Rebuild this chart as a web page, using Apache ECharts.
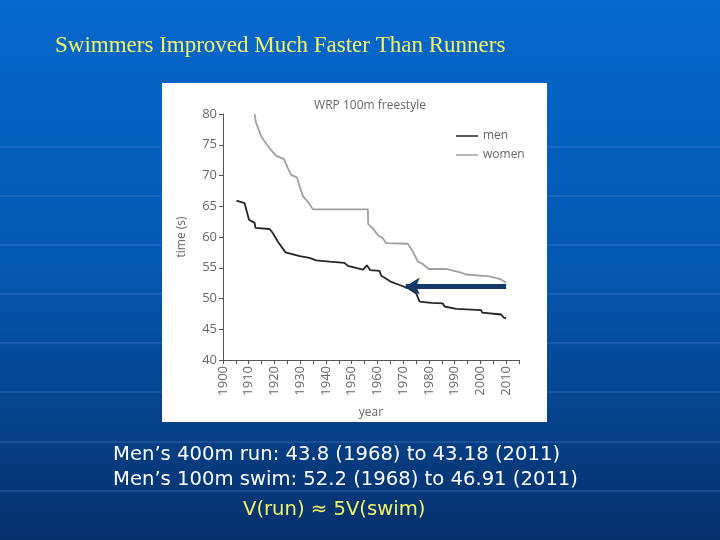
<!DOCTYPE html>
<html><head><meta charset="utf-8">
<script src="https://cdn.jsdelivr.net/npm/echarts@6/dist/echarts.min.js"></script>
<style>html,body{margin:0;padding:0;}#c{width:720px;height:540px;}</style>
</head><body><div id="c"></div>
<script>
// Data
var menYears   = [1905.2,1908.4,1910.1,1912.3,1912.6,1918.1,1919.4,1921.4,1924.3,1929.8,1933.6,1936.2,1941.4,1947.2,1948.5,1954.4,1955.9,1957.2,1960.8,1961.5,1965.4,1968.6,1971.8,1975.1,1976.4,1980.9,1985.4,1986.1,1990.6,2000.3,2000.7,2008.1,2009.0,2010.0];
var menTimes   = [65.9,65.5,62.8,62.3,61.5,61.3,60.6,59.2,57.5,56.9,56.6,56.2,56.0,55.8,55.3,54.7,55.4,54.6,54.5,53.7,52.7,52.2,51.7,50.8,49.5,49.3,49.2,48.7,48.3,48.1,47.7,47.4,46.9,46.8];
var womenYears = [1912.3,1912.7,1914.9,1918.1,1920.7,1923.6,1925.2,1926.5,1928.7,1929.8,1931.1,1933.0,1934.3,1934.9,1956.3,1956.4,1958.2,1960.2,1962.1,1963.4,1971.8,1973.8,1975.7,1977.6,1980.0,1986.7,1992.5,1994.5,2003.5,2007.4,2010.0];
var womenTimes = [80.0,78.8,76.3,74.4,73.2,72.7,71.2,70.1,69.7,68.2,66.6,65.7,64.9,64.5,64.5,62.1,61.4,60.3,59.8,59.0,58.9,57.6,56.0,55.6,54.8,54.8,54.2,53.9,53.6,53.2,52.6];
var seriesNames = ['men','women'];
var arrowFrom = [2010, 52.0];
var arrowTo   = [1971, 52.0];
var slideTitle = 'Swimmers Improved Much Faster Than Runners';
var chartTitle = 'WRP 100m freestyle';
var noteLines = ['Men\u2019s 400m run: 43.8 (1968) to 43.18 (2011)', 'Men\u2019s 100m swim: 52.2 (1968) to 46.91 (2011)'];
var noteConclusion = 'V(run) \u2248 5V(swim)';

function zip(xs, ys){ return xs.map(function(x,i){ return [x, ys[i]]; }); }

var bgLines = [];
[147,196,245,294,343,392,442,491].forEach(function(y){
  bgLines.push({type:'line', z:-10, silent:true, shape:{x1:0,y1:y,x2:720,y2:y}, style:{stroke:'rgba(90,150,230,0.3)', lineWidth:1.5}});
});

var axisFont = {color:'#666', fontFamily:'Open Sans', fontSize:12};
var chart = echarts.init(document.getElementById('c'));
chart.setOption({
  backgroundColor: {type:'linear', x:0, y:0, x2:0, y2:1, colorStops:[{offset:0,color:'#0668cc'},{offset:0.5,color:'#0557b0'},{offset:1,color:'#06306a'}]},
  animation:false,
  graphic: bgLines.concat([
    {type:'rect', z:-5, silent:true, shape:{x:162,y:83,width:385,height:339}, style:{fill:'#ffffff'}},
    {type:'text', left:55, top:34, style:{text:slideTitle, fill:'#f2f56a', font:'23px "Liberation Serif"', shadowColor:'rgba(0,0,0,0.6)', shadowBlur:2, shadowOffsetX:1, shadowOffsetY:1}},
    {type:'text', left:113, top:445, style:{text:noteLines[0], fill:'#ffffff', font:'19.6px "DejaVu Sans"'}},
    {type:'text', left:113, top:470, style:{text:noteLines[1], fill:'#ffffff', font:'19.6px "DejaVu Sans"'}},
    {type:'text', left:243, top:500, style:{text:noteConclusion, fill:'#f2f56a', font:'19.6px "DejaVu Sans"'}}
  ]),
  title: {text:chartTitle, left:370, top:100, textAlign:'center', textStyle:{color:'#666', fontSize:12, fontWeight:'normal', fontFamily:'Open Sans'}, padding:0},
  legend: {orient:'vertical', left:451, top:125, itemWidth:22, itemHeight:8, itemGap:7, data:seriesNames,
    textStyle:{color:'#666', fontSize:12, fontFamily:'Open Sans'}, icon:'path://M0,4L22,4L22,5.5L0,5.5Z'},
  grid: {left:223, top:114, width:296, height:246},
  xAxis: {type:'value', min:1900, max:2015, interval:5, name:'year', nameLocation:'middle', nameGap:47,
    nameTextStyle:axisFont,
    axisLine:{show:true, lineStyle:{color:'#555', width:1}},
    axisTick:{show:true, length:4, lineStyle:{color:'#555'}},
    axisLabel:Object.assign({rotate:90, margin:6, formatter:function(v){ return (v%10===0 && v<=2010) ? String(v) : ''; }}, axisFont, {fontSize:13}),
    splitLine:{show:false}},
  yAxis: {type:'value', min:40, max:80, interval:5, name:'time (s)', nameLocation:'middle', nameGap:35, nameRotate:90,
    nameTextStyle:axisFont,
    axisLine:{show:true, lineStyle:{color:'#555', width:1}},
    axisTick:{show:true, length:4, lineStyle:{color:'#555'}},
    axisLabel:Object.assign({margin:6}, axisFont, {fontSize:13}),
    splitLine:{show:false}},
  series: [
    {name:seriesNames[0], type:'line', symbol:'none', data:zip(menYears, menTimes), lineStyle:{color:'#262626', width:1.8}, itemStyle:{color:'#262626'},
      markLine:{silent:true, symbol:['none','arrow'], symbolSize:[13,14], label:{show:false},
        lineStyle:{color:'#123b6a', width:5, type:'solid'},
        data:[[{coord:arrowFrom},{coord:arrowTo}]]}},
    {name:seriesNames[1], type:'line', symbol:'none', data:zip(womenYears, womenTimes), lineStyle:{color:'#a0a0a0', width:1.8}, itemStyle:{color:'#a0a0a0'}}
  ]
});
</script></body></html>
